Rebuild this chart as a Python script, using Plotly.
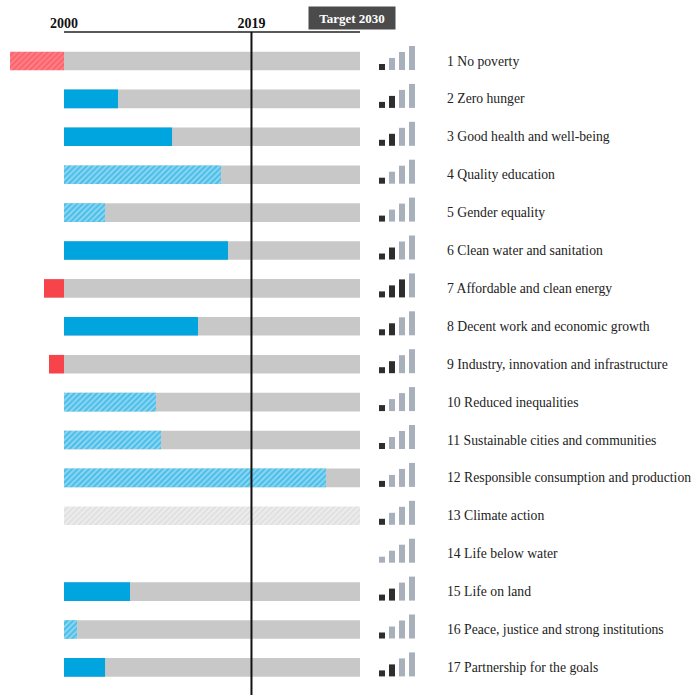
import plotly.graph_objects as go

# ---------------- data ----------------
goals = [
    "1 No poverty",
    "2 Zero hunger",
    "3 Good health and well-being",
    "4 Quality education",
    "5 Gender equality",
    "6 Clean water and sanitation",
    "7 Affordable and clean energy",
    "8 Decent work and economic growth",
    "9 Industry, innovation and infrastructure",
    "10 Reduced inequalities",
    "11 Sustainable cities and communities",
    "12 Responsible consumption and production",
    "13 Climate action",
    "14 Life below water",
    "15 Life on land",
    "16 Peace, justice and strong institutions",
    "17 Partnership for the goals",
]
# progress expressed in "years of required pace" since 2000 (negative = moving away)
progress = [-5.47, 5.47, 10.95, 15.91, 4.16, 16.62, -2.03, 13.58, -1.52,
            9.32, 9.83, 26.55, None, None, 6.69, 1.32, 4.16]
hatched = [True, False, False, True, True, False, False, False, False,
           True, True, True, False, False, False, True, False]
track = ["solid"] * 12 + ["hatched", "none"] + ["solid"] * 3
signal = [1, 2, 2, 1, 1, 2, 3, 2, 2, 1, 1, 1, 1, 0, 2, 1, 2]
start_year, current_year, target_year = 2000, 2019, 2030
tick_years = [2000, 2019]

# ---------------- styling ----------------
BLUE = "#00a5df"
RED = "#f7444b"
GRAY = "#c8c8c8"
DARK = "#2e2e2e"
LIGHT = "#a8b0bb"
SERIF = "Liberation Serif"
BARW = 0.49
W, H = 693, 695
X0 = 64                  # pixel of year 2000
XPX = 9.8667             # pixels per year
TOP = 32                 # top margin (axis line)
ROW0 = 61                # pixel centre of first row
ROW_PX = 37.9

rows = list(range(1, len(goals) + 1))
fig = go.Figure()

span = target_year - start_year

# background tracks
ts = [r for r, t in zip(rows, track) if t == "solid"]
fig.add_trace(go.Bar(y=ts, x=[span] * len(ts), base=start_year, orientation="h",
                     marker=dict(color=GRAY, line_width=0), width=BARW, hoverinfo="skip"))
th = [r for r, t in zip(rows, track) if t == "hatched"]
fig.add_trace(go.Bar(y=th, x=[span] * len(th), base=start_year, orientation="h",
                     marker=dict(color="#ececec", line_width=0,
                                 pattern=dict(shape="/", fgcolor="#d2d2d2", size=4, solidity=0.45)),
                     width=BARW, hoverinfo="skip"))

# progress bars
def add_progress(sel_neg, sel_hatch, color, bg):
    ys, xs = [], []
    for r, p, h in zip(rows, progress, hatched):
        if p is None:
            continue
        if (p < 0) == sel_neg and h == sel_hatch:
            ys.append(r)
            xs.append(p)
    if not ys:
        return
    marker = dict(color=color, line_width=0)
    if sel_hatch:
        marker = dict(color=bg, line_width=0,
                      pattern=dict(shape="/", fgcolor=color, size=4, solidity=0.5))
    fig.add_trace(go.Bar(y=ys, x=xs, base=start_year, orientation="h",
                         marker=marker, width=BARW))

add_progress(False, False, BLUE, None)
add_progress(False, True, BLUE, "#8fd6f2")
add_progress(True, False, RED, None)
add_progress(True, True, RED, "#ff8088")

# signal icons (4 bars of increasing height)
icon_x = [382, 392, 402, 412]
icx, icy, icb, icc = [], [], [], []
for r, s in zip(rows, signal):
    for k in range(4):
        icx.append(icon_x[k])
        icy.append(-(k + 1) * 6 / ROW_PX)
        icb.append(r + 9 / ROW_PX)
        icc.append(DARK if k < s else LIGHT)
fig.add_trace(go.Bar(x=icx, y=icy, base=icb, xaxis="x2", yaxis="y2",
                     marker=dict(color=icc, line_width=0), width=6, hoverinfo="skip"))

# labels
for r, g in zip(rows, goals):
    fig.add_annotation(text=g, xref="paper", x=445 / W, yref="y", y=r,
                       xanchor="left", yanchor="middle", showarrow=False,
                       font=dict(family=SERIF, size=13.7, color="#222222"))

fig.add_annotation(text="<b>Target 2030</b>", xref="paper", x=352 / W,
                   yref="paper", y=1 + 14 / (H - TOP), xanchor="center", yanchor="middle",
                   showarrow=False, bgcolor="#4b4b4b", width=82, height=18, borderpad=2,
                   font=dict(family=SERIF, size=13, color="white"))

# reference lines
fig.add_shape(type="line", xref="x", yref="paper", x0=start_year, x1=target_year,
              y0=1, y1=1, line=dict(color="#222222", width=1.5))
fig.add_shape(type="line", xref="x", yref="paper", x0=current_year, x1=current_year,
              y0=0, y1=1, line=dict(color="#111111", width=2))

yrange = [1 + (H - ROW0) / ROW_PX, 1 - (ROW0 - TOP) / ROW_PX]
fig.update_layout(
    width=W, height=H,
    margin=dict(l=0, r=0, t=TOP, b=0),
    paper_bgcolor="white", plot_bgcolor="white",
    barmode="overlay", showlegend=False,
    xaxis=dict(range=[start_year - X0 / XPX, start_year + (W - X0) / XPX], side="top",
               tickvals=tick_years, ticktext=[f"<b>{t}</b>" for t in tick_years],
               tickfont=dict(family=SERIF, size=14, color="#111111"),
               showgrid=False, zeroline=False, showline=False, ticks=""),
    yaxis=dict(range=yrange, showgrid=False, zeroline=False, showticklabels=False),
    xaxis2=dict(range=[0, W], overlaying="x", visible=False),
    yaxis2=dict(range=yrange, overlaying="y", visible=False),
)

fig.write_html(
    "out.html",
    config={"displayModeBar": False},
    post_script="document.body.style.margin='0';document.body.style.overflow='hidden';",
)
